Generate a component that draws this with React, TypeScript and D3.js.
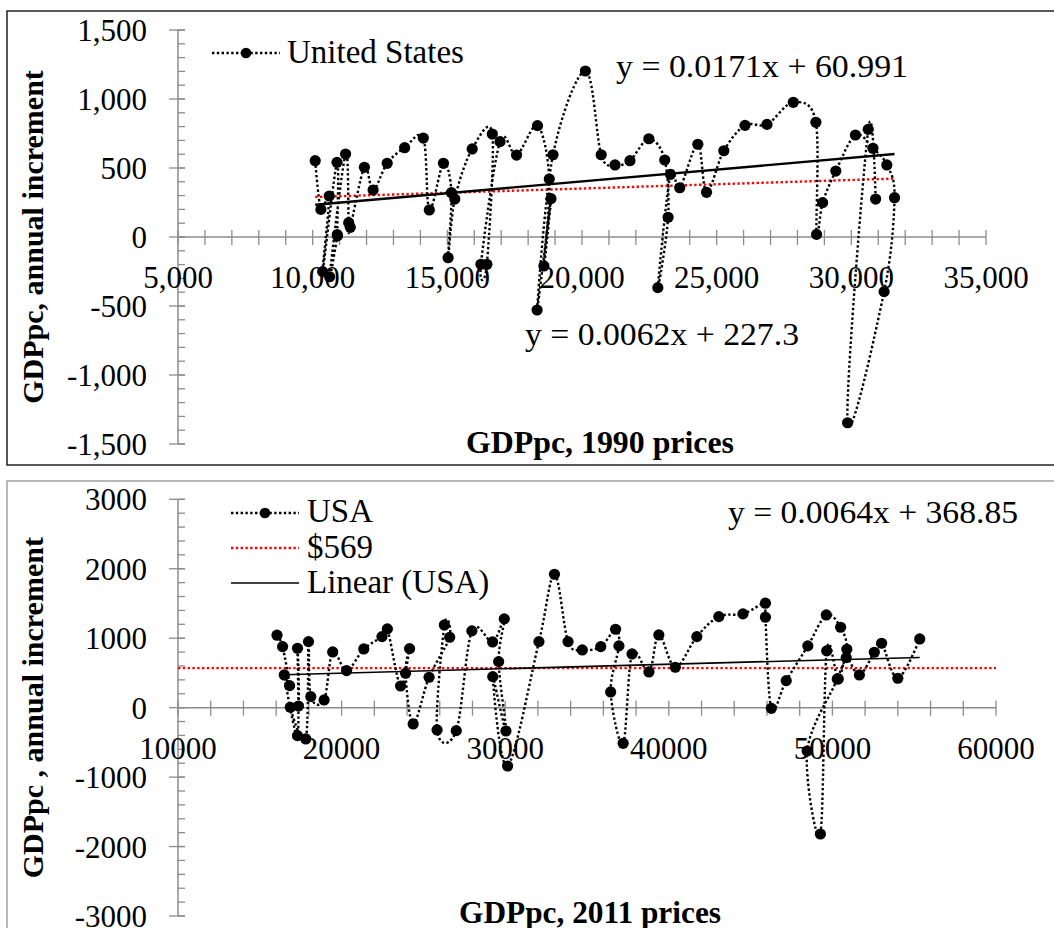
import React from "react";
import * as d3 from "d3";

// GDP per capita (1990 prices) and its annual increment, 1951-2011
const gdp1990 = [
  10094, 10306, 10614, 10370, 10904, 10914, 10920, 10629, 11223, 11338, 11397, 11921, 12244, 12767, 13414,
  14108, 14331, 14855, 15152, 15029, 15277, 15923, 16670, 16469, 16246, 16956, 17570, 18348, 18786, 18586,
  18849, 18333, 18924, 20126, 20713, 21226, 21780, 22482, 23072, 23197, 22815, 23282, 23629, 24300, 24624,
  25265, 26052, 26868, 27846, 28684, 28710, 28934, 29424, 30151, 30802, 31318, 31604, 31217, 29862, 30627,
  30902,
];
const inc1990 = [
  553, 200, 297, -251, 541, 17, 8, -288, 601, 104, 70, 505, 340, 534, 647,
  717, 196, 534, 321, -150, 275, 638, 746, -198, -198, 691, 594, 807, 420, -210,
  278, -529, 596, 1203, 596, 522, 553, 712, 558, 143, -367, 454, 357, 672, 324,
  625, 809, 816, 976, 831, 19, 249, 478, 739, 643, 522, 285, -396, -1346, 780,
  275,
];

// GDP per capita (2011 prices) and its annual increment
const gdp2011 = [
  16051, 16393, 16821, 16497, 17304, 17304, 17365, 16864, 17811, 17976, 18117, 18930, 19455, 20305, 21356,
  22468, 22798, 23605, 24155, 23911, 24375, 25347, 26606, 26282, 25836, 27009, 27963, 29230, 29943, 29600,
  30046, 29240, 30145, 32063, 33011, 33842, 34710, 35840, 36745, 36952, 36446, 37210, 37754, 38786, 39391,
  40400, 41714, 43059, 44532, 45906, 45906, 46268, 47178, 48498, 49628, 50502, 50883, 50300, 48456, 49267,
  49652, 50360, 50846, 51650, 52562, 53008, 53998, 55337,
];
const inc2011 = [
  1043, 879, 317, 471, -403, 855, 24, 6, -451, 951, 159, 111, 802, 533, 845,
  1023, 1134, 312, 850, 495, -235, 438, 1014, 1191, -321, -331, 1105, 946, 1278, 663,
  -336, 447, -840, 951, 1921, 951, 831, 879, 1129, 889, 226, -513, 773, 514, 1047,
  582, 1023, 1311, 1350, 1504, 1302, -9, 389, 889, 1335, 1158, 841, 413, -624, -1819,
  817, 413, 720, 471, 798, 927, 423, 989,
];

const xTicks1990 = [5000, 10000, 15000, 20000, 25000, 30000, 35000];
const yTicks1990 = [1500, 1000, 500, 0, -500, -1000, -1500];
const xTicks2011 = [10000, 20000, 30000, 40000, 50000, 60000];
const yTicks2011 = [3000, 2000, 1000, 0, -1000, -2000, -3000];

// trend lines: [slope, intercept]
const trendSolid1990 = [0.0171, 60.991];
const trendRed1990 = [0.0062, 227.3];
const trend2011 = [0.0064, 368.85];
const trend2011Range = [16500, 55337];
const level2011 = 569;

const loc = d3.formatLocale({ decimal: ".", thousands: ",", grouping: [3], currency: ["$", ""], minus: "-" });
const fmtComma = loc.format(",");
const fmtPlain = loc.format("d");

const FONT = "'Liberation Serif', 'Times New Roman', serif";
const AXIS = "#8c8c8c";
const DOTS = "2.4 2.4";

function Axes({ x, y, xStep, yMinor, xTicks, yTicks, fmt, xLabelDy }) {
  const [x0, x1] = x.range();
  const [yb, yt] = y.range();
  const ax = x(x.domain()[0]);
  const ay = y(0);
  const [d0, d1] = x.domain();
  const [e0, e1] = y.domain();
  return (
    <g>
      <line x1={ax} x2={ax} y1={yt} y2={yb} stroke={AXIS} strokeWidth={1.5} />
      {d3.range(e0, e1 + 1, yMinor).map((v) => (
        <line key={"ym" + v} x1={ax} x2={ax + 7} y1={y(v)} y2={y(v)} stroke={AXIS} strokeWidth={1.3} />
      ))}
      {yTicks.map((v) => (
        <g key={"y" + v}>
          <line x1={ax - 9} x2={ax + 7} y1={y(v)} y2={y(v)} stroke={AXIS} strokeWidth={1.3} />
          <text x={147} y={y(v) + 11} textAnchor="end" fontSize={31} fontFamily={FONT}>
            {fmt(v)}
          </text>
        </g>
      ))}
      <line x1={x0} x2={x1} y1={ay} y2={ay} stroke={AXIS} strokeWidth={1.5} />
      {d3.range(d0, d1 + 1, xStep).map((v) => (
        <line key={"xm" + v} x1={x(v)} x2={x(v)} y1={ay - 7} y2={ay + 8} stroke={AXIS} strokeWidth={1.3} />
      ))}
      {xTicks.map((v) => (
        <text key={"x" + v} x={x(v)} y={ay + xLabelDy} textAnchor="middle" fontSize={31} fontFamily={FONT}>
          {fmt(v)}
        </text>
      ))}
    </g>
  );
}

export default function App() {
  // top panel
  const xT = d3.scaleLinear().domain([5000, 35000]).range([178, 986]);
  const yT = d3.scaleLinear().domain([-1500, 1500]).range([444, 30]);
  // bottom panel
  const xB = d3.scaleLinear().domain([10000, 60000]).range([178, 996]);
  const yB = d3.scaleLinear().domain([-3000, 3000]).range([916, 499.3]);

  const ptsT = gdp1990.map((g, i) => [g, inc1990[i]]);
  const ptsB = gdp2011.map((g, i) => [g, inc2011[i]]);

  const lineT = d3
    .line()
    .x((d) => xT(d[0]))
    .y((d) => yT(d[1]))
    .curve(d3.curveCardinal.tension(0));
  const lineB = d3
    .line()
    .x((d) => xB(d[0]))
    .y((d) => yB(d[1]))
    .curve(d3.curveCardinal.tension(0));

  const [tMin, tMax] = d3.extent(gdp1990);
  const fit = (c, v) => c[0] * v + c[1];

  return (
    <svg width={1054} height={928} style={{ position: "absolute", left: 0, top: 0, background: "#fff" }}>
      <rect x={7} y={11} width={1100} height={454} fill="#fff" stroke="#222" strokeWidth={1.5} />
      <rect x={7} y={481} width={1100} height={500} fill="#fff" stroke="#a0a0a0" strokeWidth={1.5} />

      {/* ---------- top chart ---------- */}
      <Axes x={xT} y={yT} xStep={1000} yMinor={100} xTicks={xTicks1990} yTicks={yTicks1990} fmt={fmtComma} xLabelDy={51} />
      <line
        x1={xT(tMin)} x2={xT(tMax)} y1={yT(fit(trendRed1990, tMin))} y2={yT(fit(trendRed1990, tMax))}
        stroke="#ff0000" strokeWidth={2.4} strokeDasharray={DOTS}
      />
      <line
        x1={xT(tMin)} x2={xT(tMax)} y1={yT(fit(trendSolid1990, tMin))} y2={yT(fit(trendSolid1990, tMax))}
        stroke="#000" strokeWidth={2.4}
      />
      <path d={lineT(ptsT)} fill="none" stroke="#000" strokeWidth={2.4} strokeDasharray={DOTS} />
      {ptsT.map((d, i) => (
        <circle key={i} cx={xT(d[0])} cy={yT(d[1])} r={5.6} fill="#000" />
      ))}
      <line x1={212} x2={280} y1={53} y2={53} stroke="#000" strokeWidth={2.4} strokeDasharray={DOTS} />
      <circle cx={246} cy={53} r={5.3} fill="#000" />
      <text x={287} y={63} fontSize={33} fontFamily={FONT}>United States</text>
      <text x={616} y={77} fontSize={31} fontFamily={FONT} textLength={292} lengthAdjust="spacingAndGlyphs">
        y = 0.0171x + 60.991
      </text>
      <text x={525} y={345} fontSize={31} fontFamily={FONT} textLength={274} lengthAdjust="spacingAndGlyphs">
        y = 0.0062x + 227.3
      </text>
      <text x={600} y={453} textAnchor="middle" fontSize={31} fontWeight="bold" fontFamily={FONT}
        textLength={268} lengthAdjust="spacingAndGlyphs">
        GDPpc, 1990 prices
      </text>
      <text
        transform={`translate(43, ${yT(0)}) rotate(-90)`}
        textAnchor="middle" fontSize={30} fontWeight="bold" fontFamily={FONT}
      >
        GDPpc, annual increment
      </text>

      {/* ---------- bottom chart ---------- */}
      <Axes x={xB} y={yB} xStep={2000} yMinor={200} xTicks={xTicks2011} yTicks={yTicks2011} fmt={fmtPlain} xLabelDy={51} />
      <line
        x1={xB(10000)} x2={xB(60000)} y1={yB(level2011)} y2={yB(level2011)}
        stroke="#ff0000" strokeWidth={2.4} strokeDasharray={DOTS}
      />
      <line
        x1={xB(trend2011Range[0])} x2={xB(trend2011Range[1])}
        y1={yB(fit(trend2011, trend2011Range[0]))} y2={yB(fit(trend2011, trend2011Range[1]))}
        stroke="#000" strokeWidth={1.6}
      />
      <path d={lineB(ptsB)} fill="none" stroke="#000" strokeWidth={2.4} strokeDasharray={DOTS} />
      {ptsB.map((d, i) => (
        <circle key={i} cx={xB(d[0])} cy={yB(d[1])} r={5.6} fill="#000" />
      ))}
      <line x1={231} x2={299} y1={513} y2={513} stroke="#000" strokeWidth={2.4} strokeDasharray={DOTS} />
      <circle cx={265} cy={513} r={5.3} fill="#000" />
      <text x={307} y={522} fontSize={33} fontFamily={FONT}>USA</text>
      <line x1={231} x2={299} y1={548} y2={548} stroke="#ff0000" strokeWidth={2.4} strokeDasharray={DOTS} />
      <text x={307} y={558} fontSize={33} fontFamily={FONT}>$569</text>
      <line x1={231} x2={299} y1={583} y2={583} stroke="#000" strokeWidth={1.6} />
      <text x={307} y={593} fontSize={33} fontFamily={FONT}>Linear (USA)</text>
      <text x={728} y={523} fontSize={31} fontFamily={FONT} textLength={290} lengthAdjust="spacingAndGlyphs">
        y = 0.0064x + 368.85
      </text>
      <text x={590} y={923} textAnchor="middle" fontSize={31} fontWeight="bold" fontFamily={FONT}
        textLength={262} lengthAdjust="spacingAndGlyphs">
        GDPpc, 2011 prices
      </text>
      <text
        transform={`translate(43, ${yB(0)}) rotate(-90)`}
        textAnchor="middle" fontSize={30} fontWeight="bold" fontFamily={FONT}
      >
        GDPpc , annual increment
      </text>
    </svg>
  );
}
